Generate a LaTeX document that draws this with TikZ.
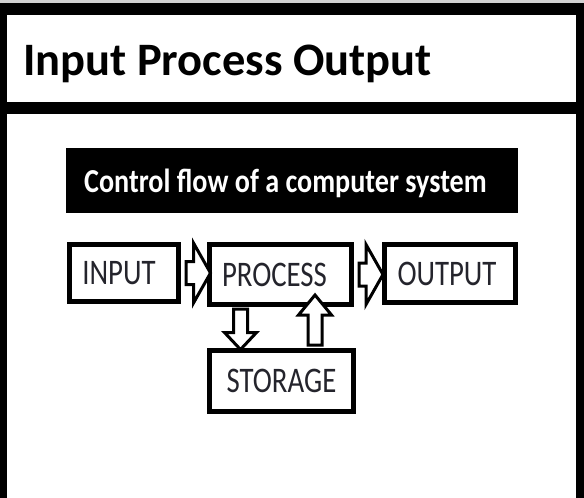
\documentclass[tikz,border=0pt]{standalone}
\usepackage{fontspec}
\setmainfont{Carlito}
\usetikzlibrary{calc}
\definecolor{labelink}{HTML}{24242C}
\tikzset{
  box/.style={draw=black, line width=5pt, fill=white, inner sep=0pt, text=labelink,
    font=\fontsize{36}{36}\selectfont},
  blk/.style={draw=black, line width=3pt, fill=white, line join=miter},
}
\newcommand\lbl[1]{\scalebox{0.8}[1]{#1}}
\newcommand\hlbl[1]{\scalebox{0.84}[1]{#1}}
\begin{document}
\begin{tikzpicture}[x=1pt,y=-1pt]
\useasboundingbox (0,0) rectangle (584,498);
% frame
\fill[white] (0,0) rectangle (584,498);
\fill[black!18] (0,0) rectangle (584,3);
\fill[black] (0,3) rectangle (584,498);
\fill[white] (7,15) rectangle (576,102);
\fill[white] (7,114) rectangle (576,498);
\node[anchor=base west, inner sep=0pt, font=\fontsize{46.5}{46.5}\selectfont\bfseries] (title) at (23,75) {Input Process Output};
% black heading
\node[fill=black, minimum width=452, minimum height=65, inner sep=0pt, anchor=north west] (head) at (66,148) {};
\node[anchor=base west, inner sep=0pt, text=white, font=\fontsize{33.5}{33.5}\selectfont\bfseries] (headtxt) at (84,192) {\hlbl{Control flow of a computer system}};
% boxes
\node[box, minimum width=109, minimum height=57] (in) at (124,273) {\hspace*{-10pt}\lbl{INPUT}};
\node[box, minimum width=142, minimum height=60] (proc) at (280.5,274.5) {\hspace*{-12pt}\lbl{PROCESS}};
\node[box, minimum width=131, minimum height=58] (out) at (450,273.5) {\hspace*{-6pt}\lbl{OUTPUT}};
\node[box, minimum width=144, minimum height=61] (stor) at (281.5,381) {\lbl{STORAGE}};
% horizontal block arrows
\coordinate (a1s) at ($(in.east)+(5,0)$);
\coordinate (a1t) at ($(proc.west)+(3.5,0)$);
\coordinate (a2s) at ($(proc.east)+(5,0)$);
\coordinate (a2t) at ($(out.west)+(1,0)$);
\draw[blk] let \p1=(a1s), \p2=(a1t |- a1s) in
  (\x1,\y1+11.5pt) -- (\x2-17pt,\y1+11.5pt) -- (\x2-17pt,\y1+30pt) -- (\x2,\y1)
  -- (\x2-17pt,\y1-30pt) -- (\x2-17pt,\y1-11.5pt) -- (\x1,\y1-11.5pt) -- cycle;
\draw[blk] let \p1=(a2s), \p2=(a2t |- a2s) in
  (\x1,\y1+11.5pt) -- (\x2-17pt,\y1+11.5pt) -- (\x2-17pt,\y1+30pt) -- (\x2,\y1)
  -- (\x2-17pt,\y1-30pt) -- (\x2-17pt,\y1-11.5pt) -- (\x1,\y1-11.5pt) -- cycle;
% vertical block arrows
\coordinate (dS) at ($(proc.south)+(-40,2)$);
\coordinate (dT) at ($(stor.north)+(-41,1.5)$);
\coordinate (uS) at ($(stor.north)+(33.5,-3)$);
\coordinate (uT) at ($(proc.south)+(34.5,-12)$);
\draw[blk] let \p1=(dS), \p2=(dS |- dT) in
  (\x1-7pt,\y1) -- (\x1-7pt,\y2+17pt) -- (\x1-16pt,\y2+17pt) -- (\x1,\y2)
  -- (\x1+16pt,\y2+17pt) -- (\x1+7pt,\y2+17pt) -- (\x1+7pt,\y1) -- cycle;
\draw[blk] let \p1=(uS), \p2=(uS |- uT) in
  (\x1-7pt,\y1) -- (\x1-7pt,\y2-20pt) -- (\x1-16.5pt,\y2-20pt) -- (\x1,\y2)
  -- (\x1+16.5pt,\y2-20pt) -- (\x1+7pt,\y2-20pt) -- (\x1+7pt,\y1) -- cycle;
\end{tikzpicture}
\end{document}
